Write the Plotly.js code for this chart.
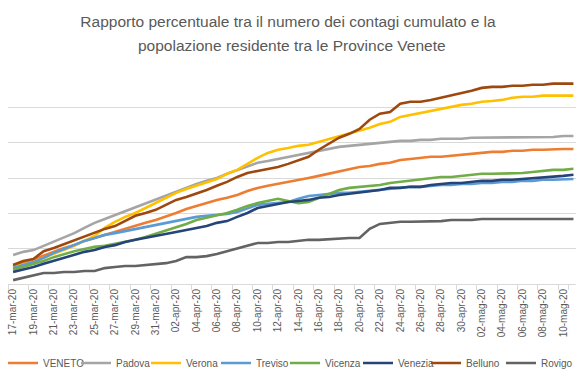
<!DOCTYPE html>
<html>
<head>
<meta charset="utf-8">
<script src="https://cdn.plot.ly/plotly-3.0.1.min.js"></script>
<style>html,body{margin:0;padding:0;background:#fff;}#chart{width:576px;height:384px;}</style>
</head>
<body>
<div id="chart"></div>
<script>
const dates = ["17-mar-20","18-mar-20","19-mar-20","20-mar-20","21-mar-20","22-mar-20","23-mar-20","24-mar-20","25-mar-20","26-mar-20","27-mar-20","28-mar-20","29-mar-20","30-mar-20","31-mar-20","01-apr-20","02-apr-20","03-apr-20","04-apr-20","05-apr-20","06-apr-20","07-apr-20","08-apr-20","09-apr-20","10-apr-20","11-apr-20","12-apr-20","13-apr-20","14-apr-20","15-apr-20","16-apr-20","17-apr-20","18-apr-20","19-apr-20","20-apr-20","21-apr-20","22-apr-20","23-apr-20","24-apr-20","25-apr-20","26-apr-20","27-apr-20","28-apr-20","29-apr-20","30-apr-20","01-mag-20","02-mag-20","03-mag-20","04-mag-20","05-mag-20","06-mag-20","07-mag-20","08-mag-20","09-mag-20","10-mag-20","11-mag-20"];

const veneto = [0.048,0.059,0.068,0.079,0.091,0.102,0.110,0.122,0.130,0.139,0.147,0.156,0.164,0.173,0.181,0.190,0.201,0.212,0.221,0.229,0.238,0.244,0.252,0.263,0.272,0.278,0.283,0.289,0.295,0.300,0.306,0.312,0.320,0.326,0.331,0.334,0.340,0.343,0.351,0.354,0.357,0.360,0.360,0.363,0.365,0.368,0.371,0.374,0.374,0.377,0.377,0.380,0.380,0.382,0.382,0.382];
const padova = [0.082,0.091,0.096,0.108,0.119,0.130,0.144,0.159,0.173,0.184,0.195,0.207,0.218,0.227,0.238,0.249,0.261,0.272,0.283,0.292,0.300,0.312,0.323,0.334,0.343,0.348,0.354,0.360,0.365,0.371,0.377,0.382,0.388,0.391,0.394,0.397,0.399,0.402,0.405,0.405,0.408,0.408,0.411,0.411,0.411,0.414,0.414,0.414,0.414,0.414,0.416,0.416,0.416,0.416,0.419,0.419];
const verona = [0.048,0.054,0.062,0.074,0.085,0.096,0.108,0.122,0.136,0.159,0.176,0.190,0.201,0.215,0.229,0.244,0.258,0.269,0.278,0.289,0.297,0.312,0.323,0.340,0.357,0.371,0.380,0.385,0.391,0.394,0.402,0.408,0.416,0.425,0.433,0.442,0.453,0.459,0.473,0.479,0.484,0.490,0.496,0.501,0.507,0.510,0.516,0.518,0.521,0.527,0.530,0.530,0.533,0.533,0.533,0.533];
const treviso = [0.045,0.054,0.062,0.074,0.088,0.099,0.110,0.122,0.130,0.139,0.144,0.150,0.156,0.161,0.167,0.173,0.178,0.184,0.190,0.193,0.195,0.198,0.204,0.215,0.224,0.227,0.229,0.232,0.241,0.249,0.252,0.255,0.258,0.258,0.261,0.263,0.266,0.269,0.272,0.275,0.275,0.278,0.280,0.280,0.283,0.283,0.286,0.286,0.289,0.289,0.292,0.292,0.295,0.295,0.297,0.297];
const vicenza = [0.040,0.048,0.057,0.065,0.076,0.085,0.093,0.099,0.105,0.108,0.113,0.119,0.125,0.133,0.142,0.150,0.159,0.170,0.181,0.187,0.195,0.201,0.210,0.221,0.229,0.235,0.241,0.235,0.229,0.232,0.244,0.255,0.266,0.272,0.275,0.278,0.280,0.286,0.289,0.292,0.297,0.300,0.303,0.303,0.306,0.309,0.312,0.312,0.312,0.314,0.314,0.317,0.320,0.323,0.323,0.326];
const venezia = [0.034,0.040,0.048,0.057,0.065,0.074,0.082,0.091,0.096,0.105,0.110,0.119,0.125,0.130,0.136,0.142,0.147,0.153,0.159,0.164,0.173,0.178,0.190,0.201,0.215,0.221,0.227,0.232,0.235,0.238,0.244,0.246,0.252,0.255,0.258,0.261,0.266,0.272,0.272,0.275,0.275,0.280,0.283,0.286,0.286,0.289,0.292,0.292,0.295,0.295,0.297,0.300,0.300,0.303,0.306,0.309];
const belluno = [0.054,0.065,0.071,0.093,0.102,0.113,0.125,0.136,0.147,0.156,0.164,0.178,0.193,0.201,0.210,0.224,0.238,0.246,0.255,0.266,0.278,0.289,0.303,0.314,0.320,0.326,0.331,0.340,0.351,0.360,0.380,0.397,0.414,0.425,0.439,0.465,0.482,0.487,0.510,0.516,0.516,0.521,0.527,0.533,0.541,0.547,0.555,0.558,0.558,0.561,0.561,0.564,0.564,0.567,0.567,0.567];
const rovigo = [0.011,0.017,0.025,0.031,0.031,0.034,0.034,0.037,0.037,0.045,0.048,0.051,0.051,0.054,0.057,0.059,0.065,0.076,0.076,0.079,0.085,0.093,0.099,0.108,0.116,0.116,0.119,0.119,0.122,0.125,0.125,0.127,0.127,0.130,0.130,0.156,0.170,0.173,0.176,0.176,0.176,0.178,0.178,0.181,0.181,0.181,0.184,0.184,0.184,0.184,0.184,0.184,0.184,0.184,0.184,0.184];

const names = ["VENETO","Padova","Verona","Treviso","Vicenza","Venezia","Belluno","Rovigo"];
const colors = ["#ED7D31","#A5A5A5","#FFC000","#5B9BD5","#70AD47","#264478","#9E480E","#636363"];
const series = [veneto, padova, verona, treviso, vicenza, venezia, belluno, rovigo];

const tickDates = dates.filter((d, i) => i % 2 === 0);
const legendIds = ["legend","legend2","legend3","legend4","legend5","legend6","legend7","legend8"];
const legendLeftPx = [3, 76, 146, 216, 285, 358, 426, 501];

const traces = series.map((s, k) => ({
  x: dates, y: s, type: "scatter", mode: "lines", name: names[k],
  legend: legendIds[k],
  line: {color: colors[k], width: 2.6}
}));

const titleFont = {size: 15.5, color: "#595959", family: "Liberation Sans, Arial, sans-serif"};

const layout = {
  width: 576, height: 384,
  margin: {l: 8, r: 0, t: 72, b: 100},
  paper_bgcolor: "#ffffff", plot_bgcolor: "#ffffff",
  font: {family: "Liberation Sans, Arial, sans-serif", color: "#595959"},
  title: {
    text: "Rapporto percentuale tra il numero dei contagi cumulato e la",
    font: titleFont,
    x: 0.5, xanchor: "center", y: 1 - 22 / 384, yanchor: "middle", yref: "container"
  },
  annotations: [{
    text: "popolazione residente tra le Province Venete",
    font: titleFont, showarrow: false,
    xref: "paper", yref: "paper", x: 0.5, xanchor: "center",
    y: (284 - 46) / 212, yanchor: "middle"
  }],
  xaxis: {
    type: "category", range: [-0.5, 55.25],
    tickvals: tickDates, ticktext: tickDates,
    tickangle: -90, tickfont: {size: 10, color: "#595959"},
    tickson: "boundaries", ticks: "outside", ticklen: 5, tickcolor: "#d9d9d9",
    showgrid: false, showline: true, linecolor: "#d9d9d9", linewidth: 1,
    zeroline: false
  },
  yaxis: {
    range: [0, 0.6], dtick: 0.1, showticklabels: false,
    showgrid: true, gridcolor: "#d9d9d9", gridwidth: 1,
    zeroline: false, showline: false, ticks: ""
  },
  showlegend: true
};

legendIds.forEach((id, k) => {
  layout[id] = {
    orientation: "h", xref: "container", yref: "container",
    x: legendLeftPx[k] / 576, xanchor: "left", y: 1 - 363 / 384, yanchor: "middle",
    font: {size: 10, color: "#595959"}, itemwidth: 30, bgcolor: "rgba(0,0,0,0)"
  };
});

Plotly.newPlot("chart", traces, layout, {displayModeBar: false, staticPlot: true});
</script>
</body>
</html>
